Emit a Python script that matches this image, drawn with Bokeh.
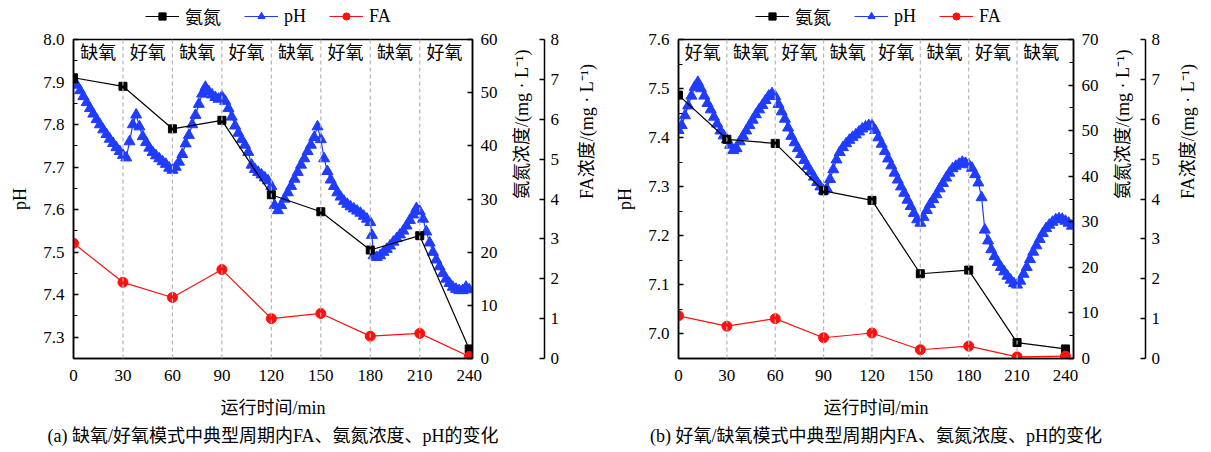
import math
from bokeh.plotting import figure
from bokeh.models import (Range1d, LinearAxis, FixedTicker, Span, Legend, LegendItem,
                          Title, PrintfTickFormatter, ColumnDataSource)
from bokeh.layouts import row, column
from bokeh.core.properties import value
from bokeh.embed import file_html
from bokeh.resources import INLINE

# ---------------- data: panel (a) ----------------
sample_t = [0, 30, 60, 90, 120, 150, 180, 210, 240]
a_nh = [52.8, 51.2, 43.2, 44.8, 30.8, 27.6, 20.4, 23.1, 1.8]
a_fa = [2.89, 1.91, 1.53, 2.23, 1.00, 1.13, 0.56, 0.63, 0.05]
a_ph_t = [0, 2, 4, 6, 8, 10, 12, 14, 16, 18, 20, 22, 24, 26, 28, 30, 32, 34, 36, 38,
          40, 42, 44, 46, 48, 50, 52, 54, 56, 58, 60, 62, 64, 66, 68, 70, 72, 74, 76, 78,
          80, 82, 84, 86, 88, 90, 92, 94, 96, 98, 100, 102, 104, 106, 108, 110, 112, 114, 116, 118,
          120, 122, 124, 126, 128, 130, 132, 134, 136, 138, 140, 142, 144, 146, 148, 150, 152, 154, 156, 158,
          160, 162, 164, 166, 168, 170, 172, 174, 176, 178, 180, 181, 182, 184, 186, 188, 190, 192, 194, 196, 198,
          200, 202, 204, 206, 208, 210, 212, 214, 216, 218, 220, 222, 224, 226, 228, 230, 232, 234, 236, 238, 240]
a_ph = [7.905, 7.893, 7.880, 7.866, 7.852, 7.838, 7.825, 7.812, 7.800, 7.788,
        7.777, 7.766, 7.756, 7.746, 7.737, 7.728, 7.722, 7.760, 7.800, 7.823,
        7.795, 7.772, 7.758, 7.745, 7.735, 7.727, 7.720, 7.713, 7.707, 7.698,
        7.693, 7.700, 7.712, 7.730, 7.755, 7.775, 7.800, 7.822, 7.848, 7.872,
        7.888, 7.878, 7.870, 7.864, 7.860, 7.866, 7.855, 7.838, 7.818, 7.797,
        7.780, 7.765, 7.752, 7.735, 7.705, 7.695, 7.688, 7.682, 7.675, 7.668,
        7.655, 7.610, 7.598, 7.610, 7.625, 7.640, 7.655, 7.672, 7.688, 7.705,
        7.720, 7.737, 7.752, 7.770, 7.795, 7.765, 7.720, 7.690, 7.670, 7.655,
        7.640, 7.630, 7.620, 7.613, 7.607, 7.602, 7.597, 7.592, 7.585, 7.578,
        7.570, 7.540, 7.492, 7.488, 7.492, 7.500, 7.507, 7.515, 7.524, 7.532, 7.541,
        7.550, 7.562, 7.575, 7.588, 7.603, 7.596, 7.578, 7.548, 7.522, 7.500,
        7.482, 7.466, 7.450, 7.437, 7.427, 7.418, 7.413, 7.410, 7.410, 7.418, 7.412]
a_phases = ["缺氧", "好氧", "缺氧", "好氧", "缺氧", "好氧", "缺氧", "好氧"]

# ---------------- data: panel (b) ----------------
b_nh = [57.8, 48.1, 47.2, 36.8, 34.7, 18.6, 19.4, 3.5, 2.1]
b_fa = [1.07, 0.81, 1.00, 0.52, 0.64, 0.22, 0.31, 0.04, 0.06]
b_ph_t = [0, 2, 4, 6, 8, 10, 12, 14, 16, 18, 20, 22, 24, 26, 28, 30, 32, 34, 36, 38,
          40, 42, 44, 46, 48, 50, 52, 54, 56, 58, 60, 62, 64, 66, 68, 70, 72, 74, 76, 78,
          80, 82, 84, 86, 88, 90, 92, 94, 96, 98, 100, 102, 104, 106, 108, 110, 112, 114, 116, 118,
          120, 122, 124, 126, 128, 130, 132, 134, 136, 138, 140, 142, 144, 146, 148, 150, 152, 154, 156, 158,
          160, 162, 164, 166, 168, 170, 172, 174, 176, 178, 180, 182, 184, 186, 188, 190, 192, 194, 196, 198,
          200, 202, 204, 206, 208, 210, 212, 214, 216, 218, 220, 222, 224, 226, 228, 230, 232, 234, 236, 238,
          240, 242, 244]
b_ph = [7.415, 7.425, 7.445, 7.465, 7.485, 7.503, 7.513, 7.500, 7.485, 7.470,
        7.457, 7.442, 7.428, 7.414, 7.404, 7.396, 7.385, 7.374, 7.378, 7.392,
        7.403, 7.414, 7.425, 7.436, 7.447, 7.457, 7.466, 7.476, 7.485, 7.490,
        7.484, 7.468, 7.453, 7.438, 7.420, 7.403, 7.390, 7.378, 7.366, 7.354,
        7.342, 7.331, 7.320, 7.309, 7.300, 7.292, 7.296, 7.315, 7.335, 7.355,
        7.370, 7.380, 7.388, 7.395, 7.401, 7.406, 7.412, 7.418, 7.422, 7.425,
        7.425, 7.415, 7.400, 7.387, 7.372, 7.357, 7.343, 7.328, 7.314, 7.300,
        7.287, 7.273, 7.260, 7.246, 7.233, 7.226, 7.238, 7.252, 7.264, 7.274,
        7.284, 7.296, 7.307, 7.318, 7.328, 7.337, 7.342, 7.346, 7.350, 7.348,
        7.345, 7.338, 7.325, 7.308, 7.278, 7.212, 7.190, 7.172, 7.158, 7.146,
        7.136, 7.127, 7.118, 7.110, 7.103, 7.100, 7.108, 7.122, 7.136, 7.152,
        7.167, 7.180, 7.193, 7.205, 7.215, 7.222, 7.228, 7.233, 7.235, 7.234,
        7.230, 7.226, 7.220]
b_phases = ["好氧", "缺氧", "好氧", "缺氧", "好氧", "缺氧", "好氧", "缺氧"]

# ---------------- ticks / ranges ----------------
phase_edges = [0, 30, 60, 90, 120, 150, 180, 210, 240]
x_ticks = [0, 30, 60, 90, 120, 150, 180, 210, 240]
a_ph_ticks = [7.3, 7.4, 7.5, 7.6, 7.7, 7.8, 7.9, 8.0]
a_ph_minor = [7.35, 7.45, 7.55, 7.65, 7.75, 7.85, 7.95]
b_ph_ticks = [7.0, 7.1, 7.2, 7.3, 7.4, 7.5, 7.6]
b_ph_minor = [6.95, 7.05, 7.15, 7.25, 7.35, 7.45, 7.55]
a_nh_ticks = [0, 10, 20, 30, 40, 50, 60]
b_nh_ticks = [0, 10, 20, 30, 40, 50, 60, 70]
b_nh_minor = [5, 15, 25, 35, 45, 55, 65]
fa_ticks = [0, 1, 2, 3, 4, 5, 6, 7, 8]
legend_labels = ["氨氮", "pH", "FA"]

FONT = "'Liberation Serif', 'Noto Sans CJK SC', serif"
BLUE = "#1f3cff"
RED = "#ff1010"
LEG_H = 29
MAIN_H = 452 - LEG_H
NAN = [math.nan]   # legend proxies only: they draw nothing in the strip


def style_axis(ax, tick_size="17px"):
    ax.axis_line_width = 1.5
    ax.axis_line_color = "black"
    ax.major_tick_line_width = 1.5
    ax.minor_tick_line_width = 1.2
    ax.major_tick_line_color = "black"
    ax.minor_tick_line_color = "black"
    ax.major_label_text_font = FONT
    ax.major_label_text_font_size = tick_size
    ax.major_label_text_color = "black"
    ax.axis_label_text_font = FONT
    ax.axis_label_text_font_size = "18px"
    ax.axis_label_text_font_style = "normal"
    ax.axis_label_text_color = "black"


def legend_strip(width, start_x):
    lf = figure(width=width, height=LEG_H, output_backend="svg", toolbar_location=None,
                x_range=Range1d(0, 1), y_range=Range1d(0, 1), min_border=0,
                x_axis_location=None, y_axis_location=None)
    lf.grid.visible = False
    lf.outline_line_color = None
    lf.background_fill_color = "white"
    lf.border_fill_color = "white"
    r1 = lf.line(NAN, NAN, line_color="black", line_width=1.2)
    r2 = lf.scatter(NAN, NAN, marker="square", size=8, fill_color="black", line_color="black")
    r3 = lf.line(NAN, NAN, line_color=BLUE, line_width=1.2)
    r4 = lf.scatter(NAN, NAN, marker="triangle", size=11, fill_color=BLUE, line_color=BLUE)
    r5 = lf.line(NAN, NAN, line_color=RED, line_width=1.2)
    r6 = lf.scatter(NAN, NAN, marker="circle", size=10, fill_color=RED, line_color=RED)
    leg = Legend(items=[LegendItem(label=legend_labels[0], renderers=[r1, r2]),
                        LegendItem(label=legend_labels[1], renderers=[r3, r4]),
                        LegendItem(label=legend_labels[2], renderers=[r5, r6])],
                 orientation="horizontal", location=(start_x, 0),
                 label_text_font=FONT, label_text_font_size="18px",
                 label_text_color="black",
                 glyph_width=34, glyph_height=18, label_height=18, label_standoff=6,
                 spacing=23, padding=0, margin=0, border_line_color=None,
                 background_fill_alpha=0)
    lf.add_layout(leg)
    return lf


def panel(width, border_left, border_right, border_top, border_bottom, x_end,
          ph_range, ph_ticks, ph_minor, nh_range, nh_ticks, nh_minor,
          ph_t, ph, nh, fa, phases, caption, cap_offset):
    p = figure(width=width, height=MAIN_H, output_backend="svg", toolbar_location=None,
               x_range=Range1d(0, x_end), y_range=Range1d(*ph_range),
               min_border_left=border_left, min_border_right=border_right,
               min_border_top=border_top, min_border_bottom=border_bottom)
    p.extra_y_ranges = {"nh": Range1d(*nh_range), "fa": Range1d(0, 8)}
    p.xgrid.visible = False
    p.ygrid.visible = False
    p.outline_line_color = "black"
    p.outline_line_width = 1.5
    p.background_fill_color = "white"
    p.border_fill_color = "white"

    # x axis
    xa = p.xaxis[0]
    xa.ticker = FixedTicker(ticks=x_ticks)
    style_axis(xa)
    xa.major_tick_in = 0
    xa.major_tick_out = 0
    xa.minor_tick_in = 0
    xa.minor_tick_out = 0
    xa.major_label_standoff = 11
    xa.axis_label = "运行时间/min"
    xa.axis_label_standoff = 14

    # pH axis
    ya = p.yaxis[0]
    ya.ticker = FixedTicker(ticks=ph_ticks, minor_ticks=ph_minor)
    ya.formatter = PrintfTickFormatter(format="%.1f")
    style_axis(ya)
    ya.major_tick_in = 5
    ya.major_tick_out = 0
    ya.minor_tick_in = 4
    ya.minor_tick_out = 0
    ya.major_label_standoff = 9
    ya.axis_label = "pH"
    ya.axis_label_standoff = 10

    # ammonia axis
    na = LinearAxis(y_range_name="nh",
                    ticker=FixedTicker(ticks=nh_ticks, minor_ticks=nh_minor))
    style_axis(na)
    na.major_tick_in = 5
    na.major_tick_out = 0
    na.minor_tick_in = 4
    na.minor_tick_out = 0
    na.major_label_standoff = 8
    na.axis_label = "氨氮浓度/(mg · L⁻¹)"
    na.axis_label_standoff = 21
    na.axis_label_orientation = math.pi / 2
    na.axis_label_text_align = "center"
    na.axis_label_text_baseline = "middle"
    p.add_layout(na, "right")

    # FA axis
    fa_ax = LinearAxis(y_range_name="fa", ticker=FixedTicker(ticks=fa_ticks))
    style_axis(fa_ax)
    fa_ax.major_tick_in = 5
    fa_ax.major_tick_out = 0
    fa_ax.minor_tick_in = 0
    fa_ax.minor_tick_out = 0
    fa_ax.major_label_standoff = 6
    fa_ax.axis_label = "FA浓度/(mg · L⁻¹)"
    fa_ax.axis_label_standoff = 25
    fa_ax.axis_label_orientation = math.pi / 2
    fa_ax.axis_label_text_align = "center"
    fa_ax.axis_label_text_baseline = "middle"
    p.add_layout(fa_ax, "right")

    # phase boundaries
    for b in phase_edges[1:-1]:
        p.add_layout(Span(location=b, dimension="height", line_color="#b4b4b4",
                          line_dash="4 3", line_width=1.2))

    # phase labels
    mids = [(phase_edges[i] + phase_edges[i + 1]) / 2 for i in range(len(phases))]
    src = ColumnDataSource(dict(x=mids, y=[ph_range[1]] * len(phases), t=phases))
    p.text(x="x", y="y", text="t", source=src, y_offset=13, text_align="center",
           text_baseline="middle", text_font=value(FONT), text_font_size="18px",
           text_color="black")

    # series
    p.line(ph_t, ph, line_color=BLUE, line_width=1.2)
    p.scatter(ph_t, ph, marker="triangle", size=11, fill_color=BLUE, line_color=BLUE)
    p.line(sample_t, nh, y_range_name="nh", line_color="black", line_width=1.2)
    p.scatter(sample_t, nh, y_range_name="nh", marker="square", size=8,
              fill_color="black", line_color="black")
    p.line(sample_t, fa, y_range_name="fa", line_color=RED, line_width=1.2)
    p.scatter(sample_t, fa, y_range_name="fa", marker="circle", size=10,
              fill_color=RED, line_color=RED)

    p.add_layout(Title(text=caption, align="center", offset=cap_offset, standoff=6,
                       text_font=FONT, text_font_size="18px",
                       text_font_style="normal", text_color="black"), "below")
    return p


W_A, W_B = 612, 599
pa = panel(W_A, 73, 140, 7, 94, 242, (7.25, 8.0), a_ph_ticks, a_ph_minor,
           (0, 60), a_nh_ticks, [], a_ph_t, a_ph, a_nh, a_fa, a_phases,
           "(a) 缺氧/好氧模式中典型周期内FA、氨氮浓度、pH的变化", 20)
pb = panel(W_B, 66, 138, 10, 94, 245, (6.95, 7.6), b_ph_ticks, b_ph_minor,
           (0, 70), b_nh_ticks, b_nh_minor, b_ph_t, b_ph, b_nh, b_fa, b_phases,
           "(b) 好氧/缺氧模式中典型周期内FA、氨氮浓度、pH的变化", 28)
la = legend_strip(W_A, 145)
lb = legend_strip(W_B, 143)

layout = column(row(la, lb), row(pa, pb))
open("out.html", "w").write(file_html(layout, INLINE))
